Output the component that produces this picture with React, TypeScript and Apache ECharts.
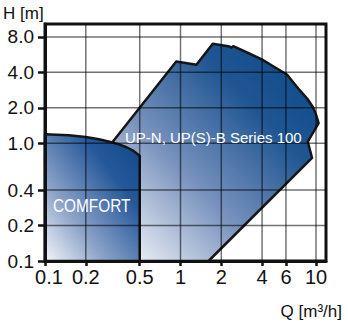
import React, { useEffect, useRef } from 'react';
import * as echarts from 'echarts';

// Tick values and labels
const xTicks = [0.1, 0.2, 0.5, 1, 2, 4, 6, 10];
const xTickLabels = ['0.1', '0.2', '0.5', '1', '2', '4', '6', '10'];
const yTicks = [0.1, 0.2, 0.4, 1, 2, 4, 8];
const yTickLabels = ['0.1', '0.2', '0.4', '1.0', '2.0', '4.0', '8.0'];

// Axis ranges (data units)
const xRange = [0.1, 11.85];
const yRange = [0.1, 10.3];

// COMFORT operating area (Q m3/h, H m)
const comfortQ = [0.1, 0.1, 0.15, 0.2, 0.25, 0.31, 0.36, 0.4, 0.45, 0.48, 0.5, 0.5];
const comfortH = [0.1, 1.19, 1.17, 1.13, 1.08, 1.02, 0.97, 0.925, 0.86, 0.81, 0.78, 0.1];

// UP-N, UP(S)-B Series 100 operating area
const seriesQ = [0.31, 0.31, 0.93, 1.31, 1.73, 2.3, 2.37, 2.45, 3.1, 3.98, 5.0, 6.1, 7.6, 8.6, 9.5, 10.0, 10.45, 8.7, 9.35, 1.61];
const seriesH = [0.1, 1.0, 4.95, 4.65, 7.0, 6.62, 6.5, 6.68, 5.9, 5.15, 4.4, 3.84, 2.81, 2.4, 2.02, 1.75, 1.48, 1.03, 0.75, 0.1];

const FONT = '"Liberation Sans", Arial, Helvetica, sans-serif';
const lg = (v: number) => Math.log10(v);

function polyData(qs: number[], hs: number[]) {
  return qs.map((q, i) => [lg(q), lg(hs[i])]);
}

export default function App() {
  const ref = useRef<HTMLDivElement>(null);

  useEffect(() => {
    if (!ref.current) return;
    const chart = echarts.init(ref.current, undefined, { renderer: 'svg' });

    const comfortData = polyData(comfortQ, comfortH);
    const seriesData = polyData(seriesQ, seriesH);

    const bigFill = new echarts.graphic.LinearGradient(1, 0, 0, 1, [
      { offset: 0, color: '#0a4887' },
      { offset: 0.3, color: '#1f5592' },
      { offset: 0.62, color: '#7892bd' },
      { offset: 1, color: '#ffffff' },
    ]);
    const comfortFill = new echarts.graphic.LinearGradient(1, 0, 0, 1, [
      { offset: 0, color: '#0e4786' },
      { offset: 0.3, color: '#25589a' },
      { offset: 0.68, color: '#8ba2c8' },
      { offset: 1, color: '#f4f6fa' },
    ]);

    const polyRender = (data: number[][], fill: any) => (params: any, api: any) => {
      if (params.dataIndex !== 0) return null;
      const pts = data.map((p) => api.coord(p));
      return {
        type: 'polygon',
        shape: { points: pts },
        style: { fill, stroke: '#161616', lineWidth: 2.5, lineJoin: 'round' },
      };
    };

    const xLab = (v: number) => {
      const i = xTicks.findIndex((t) => Math.abs(lg(t) - v) < 1e-6);
      if (i < 0) return '';
      return i === 0 ? '{p|' + xTickLabels[i] + '}' : xTickLabels[i];
    };
    const yLab = (v: number) => {
      const i = yTicks.findIndex((t) => Math.abs(lg(t) - v) < 1e-6);
      return i < 0 ? '' : yTickLabels[i];
    };

    const xLabelStyle = { fontSize: 20, fontFamily: FONT, color: '#111' };
    const yLabelStyle = { fontSize: 19, fontFamily: FONT, color: '#111' };

    chart.setOption({
      animation: false,
      grid: {
        left: 45,
        right: 22,
        top: 24,
        bottom: 69,
        show: true,
        borderColor: '#111',
        borderWidth: 3,
        backgroundColor: '#fff',
        outerBoundsMode: 'none',
      },
      xAxis: {
        type: 'value',
        min: lg(xRange[0]),
        max: lg(xRange[1]),
        z: 10,
        axisLine: { show: true, onZero: false, lineStyle: { color: '#111', width: 3 } },
        axisTick: {
          show: true,
          customValues: xTicks.map(lg),
          length: 5,
          lineStyle: { color: '#111', width: 2.5 },
        },
        axisLabel: {
          customValues: xTicks.map(lg),
          formatter: xLab,
          margin: 6,
          ...xLabelStyle,
          rich: { p: { ...xLabelStyle, padding: [0, 0, 0, 8] } },
        },
        splitLine: { show: false },
      },
      yAxis: {
        type: 'value',
        min: lg(yRange[0]),
        max: lg(yRange[1]),
        z: 10,
        axisLine: { show: true, onZero: false, lineStyle: { color: '#111', width: 3 } },
        axisTick: {
          show: true,
          customValues: yTicks.map(lg),
          length: 7,
          lineStyle: { color: '#111', width: 2.5 },
        },
        axisLabel: {
          customValues: yTicks.map(lg),
          formatter: yLab,
          margin: 11,
          ...yLabelStyle,
        },
        splitLine: { show: false },
      },
      series: [
        {
          type: 'custom',
          name: 'UP-N, UP(S)-B Series 100',
          z: 2,
          clip: false,
          data: seriesData,
          renderItem: polyRender(seriesData, bigFill),
        },
        {
          type: 'custom',
          name: 'COMFORT',
          z: 3,
          clip: false,
          data: comfortData,
          renderItem: polyRender(comfortData, comfortFill),
        },
        {
          type: 'custom',
          name: 'grid',
          z: 4,
          silent: true,
          data: [[0, 0]],
          renderItem: (params: any, api: any) => {
            const children: any[] = [];
            const st = { stroke: 'rgba(0,0,0,0.55)', lineWidth: 1.5 };
            xTicks.slice(1).forEach((t) => {
              const a = api.coord([lg(t), lg(yRange[0])]);
              const b = api.coord([lg(t), lg(yRange[1])]);
              children.push({ type: 'line', shape: { x1: a[0], y1: a[1], x2: b[0], y2: b[1] }, style: st });
            });
            yTicks.slice(1).forEach((t) => {
              const a = api.coord([lg(xRange[0]), lg(t)]);
              const b = api.coord([lg(xRange[1]), lg(t)]);
              children.push({ type: 'line', shape: { x1: a[0], y1: a[1], x2: b[0], y2: b[1] }, style: st });
            });
            return { type: 'group', children };
          },
        },
      ],
      graphic: [
        {
          type: 'text', x: 3, y: 13, z: 100,
          style: { text: 'H [m]', fontSize: 17, fontFamily: FONT, fill: '#111', align: 'left', verticalAlign: 'middle' },
        },
        {
          type: 'text', x: 342, y: 311, z: 100,
          style: { text: 'Q [m³/h]', fontSize: 17, fontFamily: FONT, fill: '#111', align: 'right', verticalAlign: 'middle' },
        },
        {
          type: 'text', x: 125, y: 137.5, z: 100,
          style: { text: 'UP-N, UP(S)-B Series 100', fontSize: 15, fontFamily: FONT, fill: '#ffffff', align: 'left', verticalAlign: 'middle' },
        },
        {
          type: 'text', x: 53, y: 205.5, z: 100, scaleX: 0.81,
          style: { text: 'COMFORT', fontSize: 19, fontFamily: FONT, fill: '#ffffff', align: 'left', verticalAlign: 'middle' },
        },
      ],
    });

    return () => chart.dispose();
  }, []);

  return (
    <div
      ref={ref}
      style={{ position: 'fixed', left: 0, top: 0, width: 348, height: 330, background: '#fff' }}
    />
  );
}
